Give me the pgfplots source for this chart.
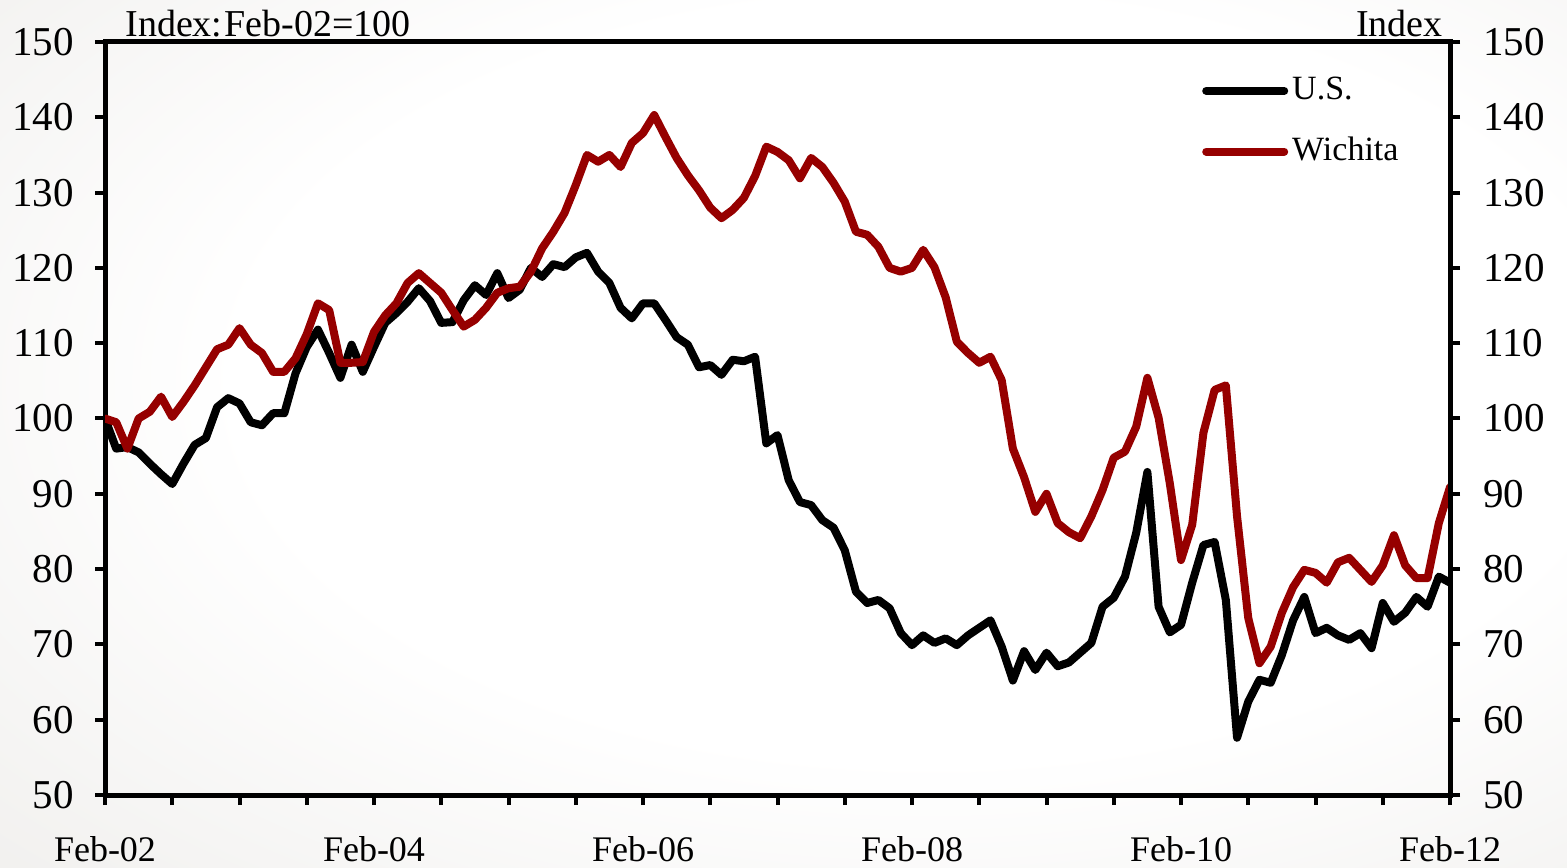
\documentclass[border=0pt]{standalone}
\usepackage{pgfplots}
\usepackage{pgfplotstable}
\usepackage{fontspec}
\setmainfont{Liberation Serif}
\pgfplotsset{compat=1.18}

\definecolor{wichred}{RGB}{150,0,0}
\definecolor{bgedge}{RGB}{216,213,208}
\pgfdeclareradialshading{bgshade}{\pgfpoint{6bp}{4bp}}{%
  color(0bp)=(white); color(22bp)=(white); color(45bp)=(white!55!bgedge);
  color(62bp)=(bgedge); color(100bp)=(bgedge)}

% monthly index, Feb-02 = month 0
\pgfplotstableread{
m us wich
0 100 100
1 96 99.5
2 96.2 96
3 95.5 100
4 94 100.9
5 92.6 102.9
6 91.3 100.2
7 94 102.2
8 96.5 104.4
9 97.4 106.8
10 101.5 109.2
11 102.7 109.8
12 102 112
13 99.5 109.8
14 99.1 108.7
15 100.7 106.2
16 100.7 106.2
17 106 108
18 109.5 111.2
19 111.8 115.3
20 108.7 114.4
21 105.4 107.4
22 109.8 107.4
23 106.2 107.5
24 109.5 111.5
25 112.7 113.7
26 114 115.3
27 115.5 118
28 117.3 119.3
29 115.6 118
30 112.7 116.7
31 112.8 114.4
32 115.7 112.2
33 117.7 113.1
34 116.4 114.7
35 119.3 116.7
36 116 117.3
37 117.1 117.5
38 120 119.5
39 118.8 122.6
40 120.5 124.8
41 120.1 127.3
42 121.4 131
43 122 135
44 119.5 134.1
45 118 135
46 114.7 133.4
47 113.3 136.6
48 115.3 137.9
49 115.3 140.3
50 113.1 137.4
51 110.8 134.6
52 109.8 132.3
53 106.8 130.3
54 107.1 128
55 105.8 126.6
56 107.8 127.7
57 107.6 129.3
58 108.2 132.2
59 96.7 136.1
60 97.8 135.4
61 91.8 134.3
62 88.9 131.9
63 88.5 134.6
64 86.5 133.4
65 85.5 131.3
66 82.5 128.8
67 77 124.8
68 75.5 124.4
69 75.9 122.8
70 74.8 120
71 71.5 119.5
72 69.9 120
73 71.2 122.4
74 70.2 120.1
75 70.8 116.1
76 69.9 110.2
77 71.2 108.7
78 72.2 107.4
79 73.2 108.2
80 69.7 105.1
81 65.2 96
82 69.1 92.2
83 66.6 87.6
84 68.9 90
85 67.1 86.1
86 67.6 84.9
87 68.9 84.1
88 70.2 87
89 75 90.5
90 76.2 94.8
91 79 95.6
92 84.8 98.9
93 92.9 105.4
94 75 100.1
95 71.6 91.4
96 72.6 81.2
97 78.2 85.9
98 83.2 98.1
99 83.6 103.8
100 75.9 104.4
101 57.6 87
102 62.4 73.5
103 65.3 67.5
104 64.9 69.7
105 68.6 74.2
106 73.2 77.6
107 76.3 79.9
108 71.5 79.5
109 72.2 78.2
110 71.2 80.9
111 70.6 81.5
112 71.5 79.9
113 69.5 78.3
114 75.5 80.5
115 73 84.5
116 74.2 80.5
117 76.3 78.8
118 75 78.8
119 79 86.1
120 78.2 90.9
}\hpi

\begin{document}
\fontsize{19}{22}\selectfont
\begin{tikzpicture}
  \shade[shading=bgshade] (0,0) rectangle (783.5pt,433.5pt);
  \useasboundingbox (0,0) rectangle (783.5pt,433.5pt);
  \pgfplotsset{
    chart/.style={
      scale only axis, width=672.5pt, height=376.5pt,
      at={(52.5pt,36pt)}, anchor=south west,
      xmin=0, xmax=120, ymin=50, ymax=150,
      axis line style={line width=2.5pt},
      tick style={line width=2pt, black},
      tick align=outside,
      ytick={50,60,...,150},
      major tick length=5pt,
      /pgf/number format/assume math mode=true,
      yticklabel style={font=\fontsize{20.5}{23}\selectfont},
      xticklabel style={font=\fontsize{18}{21}\selectfont},
    }}
  \begin{axis}[chart,
      xtick={0,6,...,120},
      xticklabels={Feb-02,,,,Feb-04,,,,Feb-06,,,,Feb-08,,,,Feb-10,,,,Feb-12},
      xtick pos=bottom,
      ytick pos=left,
      xticklabel style={yshift=-9pt},
      yticklabel style={xshift=-4pt},
      legend style={at={(0.811,0.965)}, anchor=north west, draw=none, fill=none,
        font=\fontsize{17}{20}\selectfont, row sep=12pt,
        cells={anchor=west}},
      legend image code/.code={\draw[#1] (0pt,0pt) -- (39pt,0pt);},
    ]
    \addplot[black, line width=4pt, line cap=round, line join=round] table[x=m, y=us] {\hpi};
    \addlegendentry{U.S.}
    \addplot[wichred, line width=4pt, line cap=round, line join=round] table[x=m, y=wich] {\hpi};
    \addlegendentry{Wichita}
  \end{axis}
  \begin{axis}[chart,
      axis x line=none,
      axis y line*=right,
      ytick pos=right,
      yticklabel pos=right,
      yticklabel style={xshift=5pt},
    ]
  \end{axis}
  \node[anchor=base west, inner sep=0pt] at (62.5pt,415pt) {Index:\kern1pt Feb-02=100};
  \node[anchor=base east, inner sep=0pt] at (721.5pt,415pt) {Index};
\end{tikzpicture}
\end{document}
